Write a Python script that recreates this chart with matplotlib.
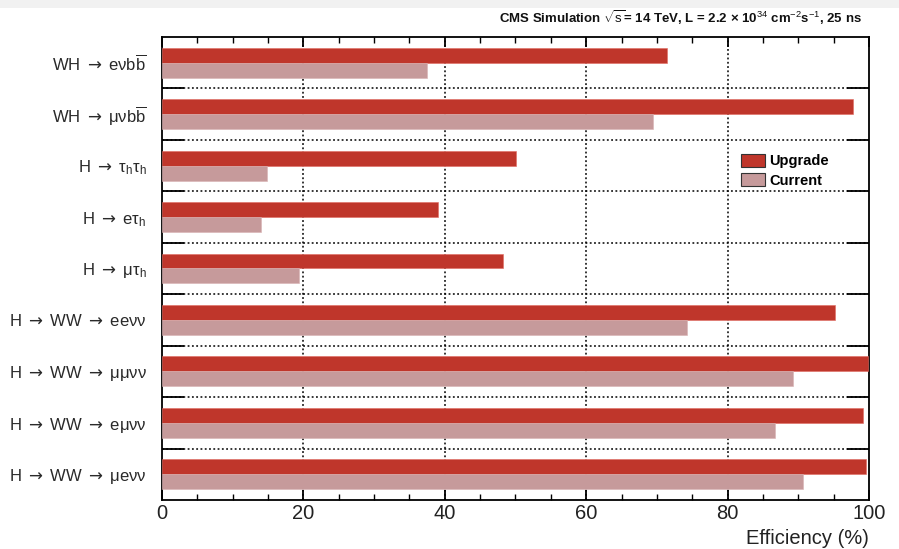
import matplotlib
matplotlib.use("Agg")
import matplotlib.pyplot as plt
import numpy as np
from matplotlib.patches import Rectangle

plt.rcParams["font.family"] = ["Liberation Sans", "DejaVu Sans"]
plt.rcParams["mathtext.fontset"] = "custom"
plt.rcParams["mathtext.rm"] = "Liberation Sans"
plt.rcParams["mathtext.it"] = "Liberation Sans"
plt.rcParams["mathtext.bf"] = "Liberation Sans:bold"
plt.rcParams["mathtext.sf"] = "DejaVu Sans"

AR = r"$\mathsf{\rightarrow}$"

channels = [
    "WH " + AR + r" eνb$\overline{\mathrm{b}}$",
    "WH " + AR + r" μνb$\overline{\mathrm{b}}$",
    "H " + AR + r" τ$_{\mathrm{h}}$τ$_{\mathrm{h}}$",
    "H " + AR + r" eτ$_{\mathrm{h}}$",
    "H " + AR + r" μτ$_{\mathrm{h}}$",
    "H " + AR + " WW " + AR + " eeνν",
    "H " + AR + " WW " + AR + " μμνν",
    "H " + AR + " WW " + AR + " eμνν",
    "H " + AR + " WW " + AR + " μeνν",
]
upgrade = [71.5, 97.8, 50.1, 39.1, 48.3, 95.2, 99.8, 99.1, 99.6]
current = [37.5, 69.5, 14.9, 14.0, 19.4, 74.2, 89.2, 86.7, 90.7]
x_ticks = [0, 20, 40, 60, 80, 100]

col_up = "#bf362b"
col_cur = "#c69a9b"

fig = plt.figure(figsize=(8.99, 5.49), dpi=100)
fig.patches.append(Rectangle((0, 0.986), 1, 0.014, transform=fig.transFigure,
                             facecolor="#f1f1f1", edgecolor="none"))
ax = fig.add_axes([0.1802, 0.0893, 0.7864, 0.8433])

y = np.arange(len(channels))
h = 0.29
ax.barh(y - 0.145, upgrade, height=h, color=col_up, edgecolor="#e06a60",
        linewidth=0.4, label="Upgrade", zorder=3)
ax.barh(y + 0.145, current, height=h, color=col_cur, edgecolor="#d8b2b3",
        linewidth=0.4, label="Current", zorder=3)

ax.set_xlim(0, 100)
ax.set_ylim(len(channels) - 0.5, -0.5)
ax.set_xticks(x_ticks)
ax.set_xticklabels([str(v) for v in x_ticks], fontsize=14.5, color="#222222")
ax.set_xticks(np.arange(0, 101, 5), minor=True)
ax.set_yticks(y)
ax.set_yticklabels(channels, fontsize=12, color="#2a2a2a")
ax.set_yticks(np.arange(0.5, len(channels) - 0.5, 1), minor=True)

ax.tick_params(axis="y", which="major", length=0, pad=11)
ax.tick_params(axis="y", which="minor", length=16, width=1.3, direction="in",
               left=True, right=True)
ax.tick_params(axis="x", which="major", length=7, width=1.3, direction="in",
               top=True, bottom=True, pad=3)
ax.tick_params(axis="x", which="minor", length=4, width=1.0, direction="in",
               top=True, bottom=True)

for xv in [20, 40, 60, 80]:
    ax.axvline(xv, color="black", linestyle=(0, (1.2, 1.6)), linewidth=1.1, zorder=1)
for yv in np.arange(0.5, len(channels) - 0.5, 1):
    ax.axhline(yv, color="black", linestyle=(0, (1.2, 1.6)), linewidth=1.1, zorder=1)

for s in ax.spines.values():
    s.set_linewidth(1.3)

ax.set_xlabel("Efficiency (%)", fontsize=14.5, loc="right", labelpad=4, color="#222222")

leg = ax.legend(loc="upper left", bbox_to_anchor=(0.805, 0.77), frameon=False,
                prop={"weight": "bold", "size": 10.5},
                handlelength=1.6, handleheight=1.0, handletextpad=0.3,
                labelspacing=0.35, borderpad=0.2)
for p in leg.get_patches():
    p.set_edgecolor("#333333")
    p.set_linewidth(0.8)

fig.text(0.959, 0.968,
         r"CMS Simulation $\sqrt{s}$= 14 TeV, L = 2.2 × 10$^{34}$ cm$^{-2}$s$^{-1}$, 25 ns",
         ha="right", va="center", fontsize=9.5, fontweight="bold", color="#111111")

fig.savefig("out.png", dpi=100)
